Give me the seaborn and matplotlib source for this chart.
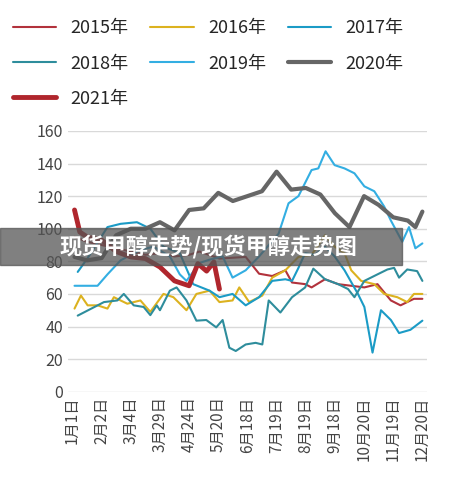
import numpy as np
import pandas as pd
import seaborn as sns
import matplotlib.pyplot as plt
from matplotlib.patches import Rectangle

tick_labels = ['1月1日', '2月2日', '3月4日', '3月29日', '4月24日', '5月20日', '6月18日',
               '7月19日', '8月19日', '9月18日', '10月20日', '11月19日', '12月20日']

# x in tick units (0 = 1月1日, 12 = 12月20日)
x15 = [0.07, 0.5, 1.0, 1.5, 2.0, 2.5, 3.0, 3.5, 4.0, 4.36, 5.04, 5.94, 6.4, 6.85, 7.3, 7.53, 7.98, 8.2, 8.66, 9.11, 9.56, 10.01, 10.46, 10.92, 11.25, 11.71, 12.0]
y15 = [95, 92, 90, 88, 86, 84, 85, 83, 84, 86, 81.7, 82.7, 72.4, 71, 74.5, 67, 66, 64, 69, 66, 65, 64, 66, 56, 53, 57, 57]

x16 = [0.07, 0.29, 0.52, 0.86, 1.2, 1.42, 1.88, 2.33, 2.67, 3.12, 3.46, 3.91, 4.25, 4.7, 5.04, 5.49, 5.72, 6.06, 6.51, 6.85, 7.3, 7.75, 8.2, 8.66, 8.99, 9.33, 9.56, 9.9, 10.35, 10.69, 11.14, 11.48, 11.71, 12.0]
y16 = [51, 59, 53, 53, 51, 58, 54, 56, 49, 60, 58, 50, 60, 62, 55, 56, 64, 55, 59, 70, 74.5, 82.7, 84, 96, 89, 85, 74.5, 68, 66, 60, 58, 55, 60, 60]

x17 = [0.18, 0.52, 1.2, 1.65, 2.21, 2.67, 3.12, 3.68, 4.14, 4.7, 5.04, 5.49, 5.94, 6.4, 6.85, 7.3, 7.53, 7.75, 7.98, 8.32, 8.66, 8.99, 9.33, 9.79, 10.01, 10.29, 10.58, 10.92, 11.2, 11.59, 12.0]
y17 = [73.5, 82, 101, 103, 104, 100, 89, 85, 66, 62, 58, 60, 53, 58, 68, 69, 68, 76, 85, 84, 89, 83, 74.5, 60, 52, 24, 50, 44, 36, 38, 43.6]

x18 = [0.18, 1.08, 1.54, 1.76, 2.1, 2.44, 2.67, 2.89, 3.0, 3.34, 3.57, 3.91, 4.25, 4.59, 4.93, 5.15, 5.38, 5.6, 5.94, 6.28, 6.51, 6.73, 7.13, 7.53, 7.98, 8.26, 8.66, 9.11, 9.45, 9.67, 10.01, 10.46, 10.8, 11.03, 11.2, 11.48, 11.82, 12.0]
y18 = [46.7, 55, 56, 60, 53, 52, 47, 53, 50, 62, 64, 56, 43.6, 44, 39.5, 44, 27, 25, 29, 30, 29, 56, 48.6, 58, 64, 75.5, 69, 66, 63, 58, 68, 72, 75, 76, 70, 75, 74, 68]

x19 = [0.07, 0.86, 1.2, 1.65, 2.33, 2.78, 3.34, 3.68, 3.91, 4.36, 4.7, 5.15, 5.49, 5.94, 6.4, 7.07, 7.41, 7.75, 8.2, 8.43, 8.68, 8.99, 9.33, 9.67, 10.01, 10.35, 10.69, 10.92, 11.31, 11.54, 11.76, 12.0]
y19 = [65, 65, 72, 80.6, 87, 89, 83, 72, 68, 79, 81, 83, 70, 74.5, 83, 97, 115.6, 120, 136, 137, 147.5, 139, 137, 134, 126, 123, 113.6, 105, 92, 101, 88, 91]

x20 = [0.07, 0.5, 1.0, 1.5, 2.0, 2.5, 3.0, 3.5, 4.0, 4.5, 5.0, 5.5, 6.0, 6.5, 7.0, 7.5, 8.0, 8.5, 9.0, 9.5, 10.0, 10.5, 11.0, 11.5, 11.76, 12.0]
y20 = [82.7, 80.6, 82, 96, 100, 100, 104, 99, 111.5, 112.5, 122, 117, 120, 123, 135, 124, 125, 121, 109.5, 101, 120, 114.6, 107, 105, 101, 110.5]

x21 = [0.07, 0.25, 0.5, 1.0, 1.5, 2.0, 2.5, 3.0, 3.5, 4.0, 4.3, 4.6, 4.85, 5.04]
y21 = [111.5, 98, 95, 93, 86, 82.7, 81.7, 76.5, 68, 65, 78.6, 74, 79.6, 63]

series = [('2015年', x15, y15, '#b2323c', 1.5), ('2016年', x16, y16, '#dcb21f', 1.5),
          ('2017年', x17, y17, '#1b9bc6', 1.5), ('2018年', x18, y18, '#2e8d9c', 1.5),
          ('2019年', x19, y19, '#33aee2', 1.5), ('2020年', x20, y20, '#666666', 3.0),
          ('2021年', x21, y21, '#b0262d', 3.5)]

sns.set_style('white')
plt.rcParams['font.family'] = ['Noto Sans CJK SC', 'DejaVu Sans']

fig = plt.figure(figsize=(4.54, 4.94), dpi=100)
ax = fig.add_axes([0.15, 0.207, 0.79, 0.528])

for name, xs, ys, c, lw in series:
    df = pd.DataFrame({'x': xs, 'y': ys})
    sns.lineplot(data=df, x='x', y='y', ax=ax, color=c, linewidth=lw, label=name, sort=False)

ax.set_ylim(0, 160)
ax.set_xlim(-0.15, 12.15)
ax.set_yticks(range(0, 161, 20))
ax.set_xticks(range(13))
ax.set_xticklabels(tick_labels, rotation=90, fontsize=11, color='#444444')
ax.tick_params(axis='y', labelsize=11.5, colors='#444444', length=0)
ax.tick_params(axis='x', length=0)
ax.grid(axis='y', color='#d9d9d9', linewidth=1)
ax.set_xlabel('')
ax.set_ylabel('')
for s in ax.spines.values():
    s.set_visible(False)

# reorder so the legend reads row by row
h, l = ax.get_legend_handles_labels()
order = [0, 3, 6, 1, 4, 2, 5]
ax.legend([h[i] for i in order], [l[i] for i in order], loc='upper left',
          bbox_to_anchor=(-0.2, 1.49), ncol=3, frameon=False, fontsize=13,
          handlelength=2.4, columnspacing=1.2, labelspacing=0.95)

fig.patches.append(Rectangle((0, 0.463), 0.886, 0.075, transform=fig.transFigure,
                             color='#555555', alpha=0.75, zorder=10))
fig.text(0.13, 0.5, '现货甲醇走势/现货甲醇走势图', color='white', fontsize=16,
         fontweight='bold', va='center', zorder=11)

fig.savefig('out.png', dpi=100)
